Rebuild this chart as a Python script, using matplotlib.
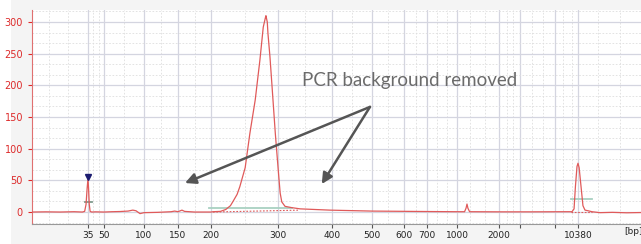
import matplotlib
matplotlib.use("Agg")
import matplotlib.pyplot as plt
import numpy as np

# ladder calibration: size in bp -> migration position
ladder_bp = [15, 35, 50, 100, 150, 200, 300, 400, 500, 600, 700, 1000, 2000, 4000, 7000, 10380, 17000]
ladder_mig = [32, 88, 104, 144, 178, 211, 278, 332, 372, 404, 427, 457, 499, 520, 555, 578, 641]

tick_bp = [35, 50, 100, 150, 200, 300, 400, 500, 600, 700, 1000, 2000, 4000, 7000, 10380]
tick_labels = ["35", "50", "100", "150", "200", "300", "400", "500", "600", "700", "1000", "2000", "", "", "10380"]
minor_bp = [21, 28, 40, 45, 75, 125, 175, 250, 350, 450, 550, 650, 800, 900, 1310, 1667,
            2760, 3330, 5030, 5970, 8180, 9500, 12480, 14790]

# electropherogram trace (bp, FU)
trace_bp = [15, 20, 25, 30, 33, 33.8, 34.3, 34.7, 35, 35.5, 36.2, 37, 38.5, 42, 50, 60, 70, 80,
            86, 90, 95, 100, 120, 140, 145, 150, 156, 160, 175, 200, 203, 214, 222, 229, 233,
            239, 243, 251, 258, 266, 273, 278, 281, 282, 284, 285, 288, 291, 296, 300, 304,
            307, 313, 325, 341, 396,
            500, 700, 1000, 1180, 1215, 1238, 1260, 1300, 2000, 5000, 8500, 9500, 9800, 10000,
            10233, 10380, 10500, 10700, 10900, 11115, 11440, 11850, 12690, 14000, 15500, 17000]
trace_fu = [0, 0.3, 0, 0.5, 0, 1, 12, 38, 53, 38, 12, 1, 0, 0.3, 0, 0.5, 0.8, 1.5,
            3, 2, -2.5, -1, -0.5, 0.5, 1.5, 0.5, 3, 1, 0, 0, 0.5, 1, 4, 10, 17,
            28, 40, 70, 124, 177, 240, 292, 306, 310, 300, 282, 245, 200, 124, 71, 30,
            16, 9, 7, 5, 3,
            1.5, 0.8, 0.5, 0.5, 6, 12.6, 6, 0.5, 0.3, 0.3, 0.5, 0.5, 5, 40,
            72, 77, 70, 40, 10, 3, 2, 0.5, -1, -0.5, -1.2, -0.8]

# peak integration ranges (start bp, end bp, level)
peak_ranges = [(33.9, 38.75, 16, "#7f9a8c"), (197, 325, 7, "#a9d1c2"), (9350, 11850, 21, "#a9d1c2")]
baselines = [(203, 340, 0, 3), (9350, 11850, 0, 0)]


def fwd(x):
    return np.interp(x, ladder_bp, ladder_mig)


def inv(x):
    return np.interp(x, ladder_mig, ladder_bp)


fig = plt.figure(figsize=(6.41, 2.44), dpi=100)
bg = fig.add_axes([11 / 641, 0, 630 / 641, 1], zorder=-1)
bg.set_axis_off()
bg.add_patch(plt.Rectangle((0, 0), 1, 1, transform=bg.transAxes, color="#f4f4f4"))

ax = fig.add_axes([32 / 641, 20 / 244, 609 / 641, 214 / 244])
ax.set_facecolor("white")
ax.set_xscale("function", functions=(fwd, inv))
ax.set_xlim(15, 17000)
ax.set_ylim(-18.9, 319)

ax.set_xticks(tick_bp)
ax.set_xticklabels(tick_labels, fontsize=6.5, color="#222222")
ax.set_xticks(minor_bp, minor=True)
ax.set_yticks(np.arange(0, 301, 50))
ax.set_yticks(np.arange(-50 / 3, 320, 50 / 3), minor=True)
ax.tick_params(axis="y", labelsize=7, colors="#dd2a2a", length=3, width=0.8)
ax.tick_params(axis="y", which="minor", length=0)
ax.tick_params(axis="x", length=3, width=0.8, color="#555555", pad=2)
ax.tick_params(axis="x", which="minor", length=0)

ax.grid(which="major", color="#d4d5e0", lw=0.9)
ax.grid(which="minor", color="#dedede", lw=0.6, ls=(0, (2, 2)))
ax.set_axisbelow(True)

for s in ["top", "right"]:
    ax.spines[s].set_visible(False)
ax.spines["left"].set_color("#e07070")
ax.spines["bottom"].set_color("#999999")

ax.plot(trace_bp, trace_fu, color="#e05a5a", lw=0.9, zorder=3)
for x0, x1, lvl, c in peak_ranges:
    ax.plot([x0, x1], [lvl, lvl], color=c, lw=1.3, zorder=2)
for x0, x1, y0, y1 in baselines:
    ax.plot([x0, x1], [y0, y1], color="#e05a5a", lw=0.8, ls=(0, (1.5, 1.5)), zorder=2)
ax.plot([35], [55], marker="v", color="#1c1c70", ms=4.5, zorder=4)

arrow = dict(arrowstyle="-|>", color="#555555", lw=1.8, mutation_scale=16, shrinkA=0, shrinkB=0)
ax.annotate("", xy=(160.6, 45.8), xytext=(495, 166), arrowprops=arrow, zorder=5)
ax.annotate("", xy=(381, 44.2), xytext=(495, 166), arrowprops=arrow, zorder=5)
ax.text(626, 208, "PCR background removed", ha="center", va="center",
        fontsize=13.5, color="#6b6b6b", family=["Lato", "DejaVu Sans"])

fig.text(624 / 641, 12 / 244, "[bp]", fontsize=6.5, color="#222222", va="center", ha="left")

fig.savefig("out.png", dpi=100)
